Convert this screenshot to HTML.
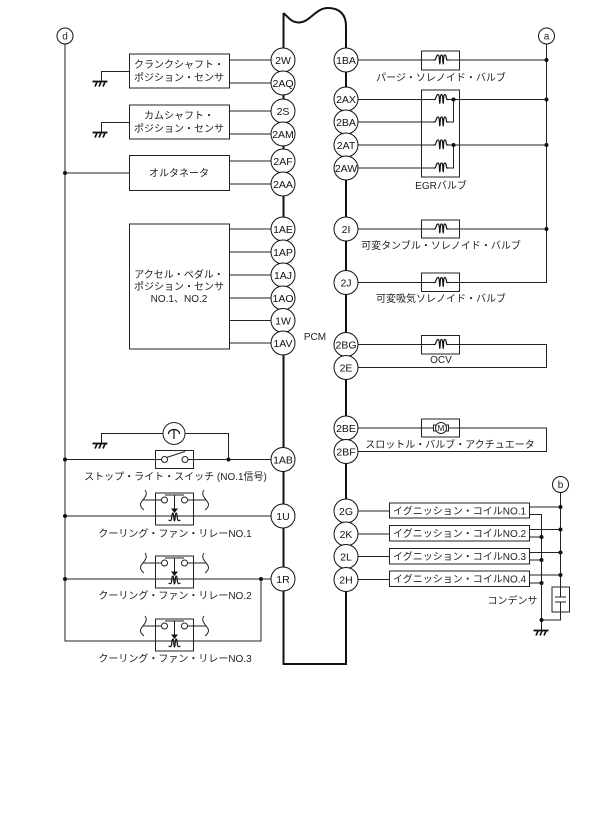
<!DOCTYPE html>
<html><head><meta charset="utf-8">
<style>
html,body{margin:0;padding:0;background:#fff}
svg{display:block}
text{font-family:"Liberation Sans","Noto Sans CJK JP",sans-serif;font-size:10px;fill:#222;text-anchor:middle}
.w{stroke:#222;stroke-width:1;fill:none}
.p{stroke:#111;stroke-width:2;fill:none}
.c{fill:#fff;stroke:#111;stroke-width:1}
.b{fill:#fff;stroke:#222;stroke-width:1}
.n{fill:none;stroke:#222;stroke-width:1}
.t{font-size:10.5px;fill:#111}
</style></head><body>
<svg width="615" height="831" viewBox="0 0 615 831" xmlns="http://www.w3.org/2000/svg">
<defs>
<g id="gnd"><path d="M-7.5,0.5H7.5" stroke="#111" stroke-width="1.8" fill="none"/><path d="M-3,1L-5,5.500M1,1L-1,5.500M5,1L3,5.500" stroke="#111" stroke-width="1.6" fill="none"/></g>
<g id="coil"><rect x="-6.500" y="-6" width="13" height="11" fill="#fff"/><path d="M-7.500,0H-6C-5,0,-5,-5,-3,-5C-1,-5,-1.800,4,-1.200,4C-0.600,4,-1.300,-5,0.500,-5C2.300,-5,1.600,4,2.200,4C2.800,4,2,-5,3.800,-5C5.800,-5,5,0,6,0H7.500" fill="none" stroke="#111" stroke-width="1.200"/></g>
<g id="relay">
<path d="M145,-10C148,-6,145,-3,143,0C140,3,139,6,144,10" class="n"/>
<path d="M204,-10C201,-6,204,-3,206,0C209,3,210,6,205,10" class="n"/>
<path d="M143,0H161M188,0H206" class="n"/>
<rect x="155.500" y="-7" width="38" height="32" fill="none" stroke="#222"/>
<circle cx="164.500" cy="0" r="3" class="b"/><circle cx="184.500" cy="0" r="3" class="b"/>
<path d="M165,-5H184M174.500,-5V10" class="n"/>
<path d="M171,8.500H178L174.500,13Z" fill="#111"/>
<path d="M168.500,20C170.500,21,171,21,171.500,19C172,15,172,13,173,13C174,13,173.500,21,174.500,21C175.500,21,175,13,176,13C177,13,177,15,177.500,19C178,21,178.500,21,180.500,20" fill="none" stroke="#111" stroke-width="1.200"/>
</g>
</defs>

<!-- PCM outline -->
<path class="p" d="M283.500,13C288,17,291,22,298,22.500C310,23,315,8,328,8C340,8,346,15,346,26V664H283.500V13"/>

<!-- left wires -->
<path class="w" d="M65,44V641H261V579M65,173H129M229,60H271M229,83H271M229,111H271M229,134H271M229,161H271M229,184H271"/>
<path class="w" d="M229,229H271M229,252H271M229,275H271M229,298H271M229,320.500H271M229,343H271"/>
<path class="w" d="M65,459.500H271M65,516H271M65,579H271"/>
<path class="n" d="M129,71.500H101.500V81M129,122.500H101.500V132M101.500,443V433.500H228.500V459"/>

<!-- left boxes -->
<rect x="129.500" y="54" width="100" height="34" class="b"/>
<rect x="129.500" y="105" width="100" height="34" class="b"/>
<rect x="129.500" y="155.500" width="100" height="35" class="b"/>
<rect x="129.500" y="224" width="100" height="125" class="b"/>
<use href="#gnd" x="100" y="81"/><use href="#gnd" x="100" y="132"/><use href="#gnd" x="100" y="443"/>

<text x="179" y="68">クランクシャフト・</text>
<text x="179" y="81">ポジション・センサ</text>
<text x="179" y="119">カムシャフト・</text>
<text x="179" y="132">ポジション・センサ</text>
<text x="179" y="176.500">オルタネータ</text>
<text x="179" y="278">アクセル・ペダル・</text>
<text x="179" y="290">ポジション・センサ</text>
<text x="179" y="302">NO.1、NO.2</text>
<text x="315" y="340">PCM</text>

<!-- lamp + switch -->
<circle cx="174" cy="433.500" r="11" class="b"/>
<path d="M168.500,434C168.500,428,179.500,428,179.500,434M174,430V439" fill="none" stroke="#111" stroke-width="1.200"/>
<rect x="155.500" y="450.500" width="38" height="18" class="b"/>
<path d="M155.500,459.500H161M188,459.500H193.500M166.500,457.500L185,451.500" class="n"/>
<circle cx="164.500" cy="459.500" r="3" class="b"/><circle cx="185" cy="459.500" r="3" class="b"/>
<text x="175.500" y="480">ストップ・ライト・スイッチ (NO.1信号)</text>

<!-- relays -->
<use href="#relay" y="500"/>
<use href="#relay" y="563"/>
<use href="#relay" y="626"/>
<text x="175" y="537">クーリング・ファン・リレーNO.1</text>
<text x="175" y="599">クーリング・ファン・リレーNO.2</text>
<text x="175" y="662">クーリング・ファン・リレーNO.3</text>

<!-- right wires -->
<path class="n" d="M546.500,44V282.500H358"/>
<path class="w" d="M358,60H546M358,99.500H546M358,122H453.500V99M358,145H546M358,168H453.500V145M358,229H546"/>
<path class="n" d="M358,344.500H546.500V367.500H358M358,428H546.500V451.500H358"/>
<rect x="421.500" y="51" width="38" height="19" fill="none" stroke="#222"/>
<rect x="421.500" y="90" width="38" height="87" fill="none" stroke="#222"/>
<rect x="421.500" y="220" width="38" height="18" fill="none" stroke="#222"/>
<rect x="421.500" y="273" width="38" height="18.500" fill="none" stroke="#222"/>
<rect x="421.500" y="335.500" width="38" height="18.500" fill="none" stroke="#222"/>
<rect x="421.500" y="419" width="38" height="18" fill="none" stroke="#222"/>
<use href="#coil" x="441" y="60"/><use href="#coil" x="441" y="99.500"/><use href="#coil" x="441" y="122"/><use href="#coil" x="441" y="145"/><use href="#coil" x="441" y="168"/><use href="#coil" x="441" y="229"/><use href="#coil" x="441" y="282.500"/><use href="#coil" x="441" y="344.500"/>
<rect x="433.500" y="425" width="15" height="6" fill="#fff" stroke="#222"/>
<circle cx="441" cy="428" r="5.500" class="b"/>
<text x="441" y="431" style="font-size:8px;fill:#111">M</text>

<text x="441" y="81">パージ・ソレノイド・バルブ</text>
<text x="441" y="189">EGRバルブ</text>
<text x="441" y="249">可変タンブル・ソレノイド・バルブ</text>
<text x="441" y="302">可変吸気ソレノイド・バルブ</text>
<text x="441" y="363">OCV</text>
<text x="450" y="448">スロットル・バルブ・アクチュエータ</text>

<!-- ignition -->
<path class="n" d="M358,511H389.500M358,534H389.500M358,556.500H389.500M358,579.500H389.500"/>
<path class="w" d="M560.500,493V587M530,507H560M530,529.500H560M530,552.500H560M530,575H560"/>
<path class="w" d="M530,514.500H541.500V630M530,537H541M530,560H541M530,583H541"/>
<path class="w" d="M560.500,612V620H541"/>
<rect x="389.500" y="503" width="140" height="15" class="b"/>
<rect x="389.500" y="525.500" width="140" height="15.500" class="b"/>
<rect x="389.500" y="548.500" width="140" height="15.500" class="b"/>
<rect x="389.500" y="571" width="140" height="15.500" class="b"/>
<text x="459.500" y="514.500">イグニッション・コイルNO.1</text>
<text x="459.500" y="537">イグニッション・コイルNO.2</text>
<text x="459.500" y="560">イグニッション・コイルNO.3</text>
<text x="459.500" y="582.500">イグニッション・コイルNO.4</text>
<text x="512.500" y="604">コンデンサ</text>
<rect x="552" y="587" width="17.500" height="25" fill="#fff" stroke="#222"/>
<path d="M560.500,587V597M560.500,602V612M555,597H566M555,602H566" class="n"/>
<use href="#gnd" x="541" y="630"/>

<!-- dots -->
<g fill="#111">
<circle cx="65" cy="173" r="2"/><circle cx="65" cy="459.500" r="2"/><circle cx="65" cy="516" r="2"/><circle cx="65" cy="579" r="2"/>
<circle cx="228.500" cy="459.500" r="2"/><circle cx="261" cy="579" r="2"/>
<circle cx="546.500" cy="60" r="2"/><circle cx="546.500" cy="99.500" r="2"/><circle cx="546.500" cy="145" r="2"/><circle cx="546.500" cy="229" r="2"/>
<circle cx="453.500" cy="99.500" r="2"/><circle cx="453.500" cy="145" r="2"/>
<circle cx="560.500" cy="507" r="2"/><circle cx="560.500" cy="529.500" r="2"/><circle cx="560.500" cy="552.500" r="2"/><circle cx="560.500" cy="575" r="2"/>
<circle cx="541.500" cy="537" r="2"/><circle cx="541.500" cy="560" r="2"/><circle cx="541.500" cy="583" r="2"/><circle cx="541.500" cy="620" r="2"/>
</g>

<!-- lettered terminals -->
<circle cx="65" cy="36" r="8" class="c"/><text x="65" y="39.500">d</text>
<circle cx="546.500" cy="36" r="8" class="c"/><text x="546.500" y="39.500">a</text>
<circle cx="560.500" cy="484.500" r="8" class="c"/><text x="560.500" y="488">b</text>

<!-- left terminals -->
<g>
<circle cx="283" cy="60" r="12" class="c"/><text class="t" x="283" y="64">2W</text>
<circle cx="283" cy="83" r="12" class="c"/><text class="t" x="283" y="87">2AQ</text>
<circle cx="283" cy="111" r="12" class="c"/><text class="t" x="283" y="115">2S</text>
<circle cx="283" cy="134" r="12" class="c"/><text class="t" x="283" y="138">2AM</text>
<circle cx="283" cy="161" r="12" class="c"/><text class="t" x="283" y="165">2AF</text>
<circle cx="283" cy="184" r="12" class="c"/><text class="t" x="283" y="188">2AA</text>
<circle cx="283" cy="229" r="12" class="c"/><text class="t" x="283" y="233">1AE</text>
<circle cx="283" cy="252" r="12" class="c"/><text class="t" x="283" y="256">1AP</text>
<circle cx="283" cy="275" r="12" class="c"/><text class="t" x="283" y="279">1AJ</text>
<circle cx="283" cy="298" r="12" class="c"/><text class="t" x="283" y="302">1AO</text>
<circle cx="283" cy="320.500" r="12" class="c"/><text class="t" x="283" y="324.500">1W</text>
<circle cx="283" cy="343" r="12" class="c"/><text class="t" x="283" y="347">1AV</text>
<circle cx="283" cy="459.500" r="12" class="c"/><text class="t" x="283" y="463.500">1AB</text>
<circle cx="283" cy="516" r="12" class="c"/><text class="t" x="283" y="520">1U</text>
<circle cx="283" cy="579" r="12" class="c"/><text class="t" x="283" y="583">1R</text>
</g>
<!-- right terminals -->
<g>
<circle cx="346" cy="60" r="12" class="c"/><text class="t" x="346" y="64">1BA</text>
<circle cx="346" cy="99" r="12" class="c"/><text class="t" x="346" y="103">2AX</text>
<circle cx="346" cy="122" r="12" class="c"/><text class="t" x="346" y="126">2BA</text>
<circle cx="346" cy="145" r="12" class="c"/><text class="t" x="346" y="149">2AT</text>
<circle cx="346" cy="168" r="12" class="c"/><text class="t" x="346" y="172">2AW</text>
<circle cx="346" cy="229" r="12" class="c"/><text class="t" x="346" y="233">2I</text>
<circle cx="346" cy="282.500" r="12" class="c"/><text class="t" x="346" y="286.500">2J</text>
<circle cx="346" cy="344.500" r="12" class="c"/><text class="t" x="346" y="348.500">2BG</text>
<circle cx="346" cy="367.500" r="12" class="c"/><text class="t" x="346" y="371.500">2E</text>
<circle cx="346" cy="428" r="12" class="c"/><text class="t" x="346" y="432">2BE</text>
<circle cx="346" cy="451.500" r="12" class="c"/><text class="t" x="346" y="455.500">2BF</text>
<circle cx="346" cy="511" r="12" class="c"/><text class="t" x="346" y="515">2G</text>
<circle cx="346" cy="534" r="12" class="c"/><text class="t" x="346" y="538">2K</text>
<circle cx="346" cy="556.500" r="12" class="c"/><text class="t" x="346" y="560.500">2L</text>
<circle cx="346" cy="579.500" r="12" class="c"/><text class="t" x="346" y="583.500">2H</text>
</g>
</svg>
</body></html>
